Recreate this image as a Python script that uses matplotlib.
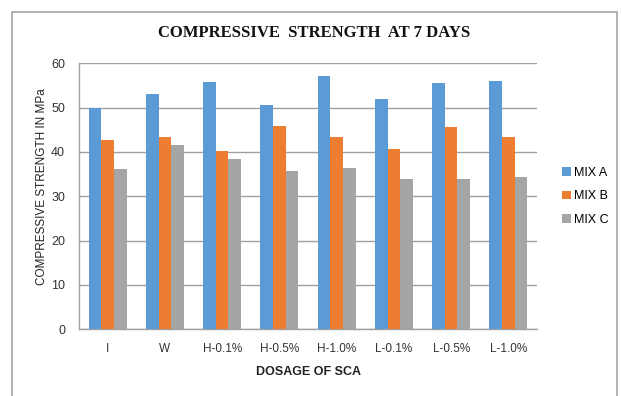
import numpy as np
import matplotlib
matplotlib.use("Agg")
from matplotlib import pyplot as plt
from matplotlib.patches import Rectangle

# compressive strength (MPa) at 7 days for each dosage
dosage = ["I", "W", "H-0.1%", "H-0.5%", "H-1.0%", "L-0.1%", "L-0.5%", "L-1.0%"]
mix_a = [50.0, 53.1, 55.7, 50.5, 57.1, 51.9, 55.5, 56.1]
mix_b = [42.7, 43.3, 40.3, 45.9, 43.3, 40.7, 45.6, 43.3]
mix_c = [36.1, 41.6, 38.4, 35.7, 36.4, 33.8, 33.8, 34.4]
series_names = ["MIX A", "MIX B", "MIX C"]
yticks = [0, 10, 20, 30, 40, 50, 60]

colors = ["#5B9BD5", "#ED7D31", "#A5A5A5"]
sans = ["Liberation Sans Narrow", "Liberation Sans", "DejaVu Sans"]

fig = plt.figure(figsize=(6.21, 3.96), dpi=100)

# outer chart frame (open at the bottom)
fig.patches.append(Rectangle((12/621, -0.05), 605/621, 1 - 12/396 + 0.05,
                             transform=fig.transFigure, fill=False,
                             edgecolor="#A6A6A6", linewidth=1.2))

ax = fig.add_axes([79/621, 1 - 329.3/396, 458/621, 266/396])

x = np.arange(len(dosage))
w = 0.222
for i, vals in enumerate([mix_a, mix_b, mix_c]):
    ax.bar(x + (i - 1) * w, vals, w, color=colors[i], label=series_names[i], zorder=3)

ax.set_xlim(-0.5, len(dosage) - 0.5)
ax.set_ylim(0, 60)
ax.set_yticks(yticks)
ax.yaxis.grid(True, color="#A0A0A0", linewidth=1.0, zorder=0)
ax.set_xticks(x)
ax.set_xticklabels(dosage, fontsize=8.5, family=sans, color="#333333")
ax.tick_params(axis="y", labelsize=9, length=0, pad=10, labelcolor="#333333")
ax.tick_params(axis="x", length=0, pad=10)
for lbl in ax.get_yticklabels():
    lbl.set_family(sans)

for s in ["top", "right"]:
    ax.spines[s].set_visible(False)
ax.spines["left"].set_color("#A0A0A0")
ax.spines["bottom"].set_color("#A0A0A0")
ax.spines["left"].set_linewidth(1.0)
ax.spines["bottom"].set_linewidth(1.0)

ax.set_xlabel("DOSAGE OF SCA", fontsize=9, fontweight="bold", family=sans,
              color="#222222", labelpad=8)
ax.set_ylabel("COMPRESSIVE STRENGTH IN MPa", fontsize=8.5, family=sans,
              color="#222222", va="center")
ax.yaxis.set_label_coords(-0.081, 0.535)

fig.text(314/621, 1 - 33/396, "COMPRESSIVE  STRENGTH  AT 7 DAYS",
         ha="center", va="center", fontsize=12, fontweight="bold",
         family=["Liberation Serif", "DejaVu Serif"], color="#111111")

leg = ax.legend(loc="center left", bbox_to_anchor=(1.03, 0.5), frameon=False,
                handlelength=0.7, handleheight=0.7,
                handletextpad=0.3, labelspacing=0.9, prop={"family": sans, "size": 9})

fig.savefig("out.png", dpi=100)
